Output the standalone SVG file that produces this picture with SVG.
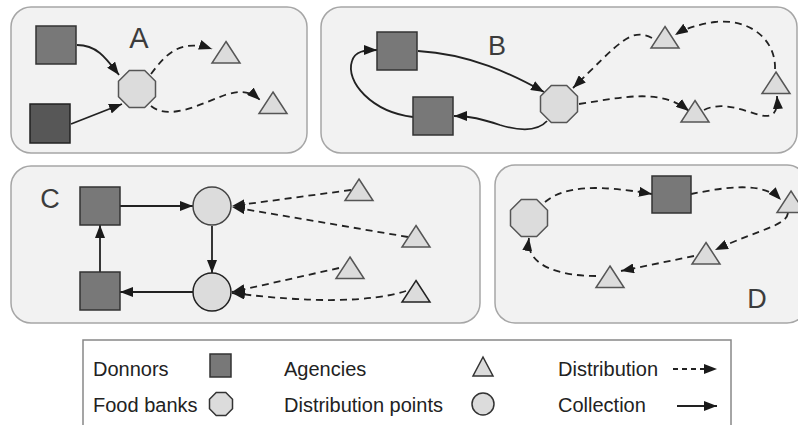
<svg xmlns="http://www.w3.org/2000/svg" xmlns:xlink="http://www.w3.org/1999/xlink" width="798" height="425" viewBox="0 0 798 425">
<style>
.panel{fill:#f2f2f2;stroke:#a6a6a6;stroke-width:1.5}
.donor{fill:#787878;stroke:#333;stroke-width:1.5}
.donor2{fill:#575757;stroke:#222;stroke-width:1.5}
.light{fill:#dcdcdc;stroke:#555;stroke-width:1.5}
.circ{fill:#dcdcdc;stroke:#444;stroke-width:1.5}
.col{fill:none;stroke:#222;stroke-width:1.8;marker-end:url(#ah)}
.dist{fill:none;stroke:#222;stroke-width:1.8;stroke-dasharray:7 5;marker-end:url(#ah)}
.lbl{font-family:"Liberation Sans",Arial,sans-serif;font-size:27px;fill:#3c3c3c;text-anchor:middle}
.leg{font-family:"Liberation Sans",Arial,sans-serif;font-size:20px;fill:#222}
</style>
<defs>
<marker id="ah" viewBox="0 0 13 10" refX="13" refY="5" markerWidth="13" markerHeight="10" markerUnits="userSpaceOnUse" orient="auto"><path d="M0,0 L13,5 L0,10 z" fill="#1a1a1a"/></marker>
<polygon id="oct" points="18.5,7.7 7.7,18.5 -7.7,18.5 -18.5,7.7 -18.5,-7.7 -7.7,-18.5 7.7,-18.5 18.5,-7.7"/>
<polygon id="octS" points="11.5,4.8 4.8,11.5 -4.8,11.5 -11.5,4.8 -11.5,-4.8 -4.8,-11.5 4.8,-11.5 11.5,-4.8"/>
<polygon id="tri" points="0,-11 14,10.5 -14,10.5"/>
<polygon id="triS" points="0,-9.5 10,9.5 -10,9.5"/>
</defs>

<g id="panels">
<rect class="panel" x="11" y="7" width="296" height="146" rx="20"/>
<rect class="panel" x="321" y="7" width="476" height="146" rx="20"/>
<rect class="panel" x="11" y="166" width="469" height="157" rx="20"/>
<rect class="panel" x="495" y="165" width="312" height="158" rx="20"/>
<text class="lbl" x="139" y="48" style="font-size:29px">A</text>
<text class="lbl" x="497" y="55">B</text>
<text class="lbl" x="50" y="208">C</text>
<text class="lbl" x="757" y="308">D</text>
</g>

<g id="connectors">
<!-- A -->
<path class="col" d="M77,45 C97,45 106,58 119,75"/>
<path class="col" d="M71,124 L122,104"/>
<path class="dist" d="M151,74 C165,55 180,38 212,49"/>
<path class="dist" d="M151,106 C170,121 200,104 225,95 C240,90 250,91 260,100"/>
<!-- B -->
<path class="col" d="M418,51 C470,54 512,74 544,92"/>
<path class="col" d="M547,121 C538,131 520,131 500,125 C482,119 470,116 454,116"/>
<path class="col" d="M413,117 C372,112 345,82 352,61 C355,51 365,50 377,50"/>
<path class="dist" d="M579,104 C625,97 660,88 689,111"/>
<path class="dist" d="M704,110 C722,101 742,110 760,115 C775,119 778,110 777,96"/>
<path class="dist" d="M775,69 C776,40 750,18 715,22 C700,24 686,28 675,35"/>
<path class="dist" d="M652,38 C631,27 620,42 573,88"/>
<!-- C -->
<path class="col" d="M120,206 L193,206"/>
<path class="col" d="M212,226 L212,273"/>
<path class="col" d="M193,292 L120,292"/>
<path class="col" d="M100,272 L100,225"/>
<path class="dist" d="M351,190 L232,206"/>
<path class="dist" d="M408,237 L232,207"/>
<path class="dist" d="M339,268 L232,292"/>
<path class="dist" d="M406,291 Q352,308 232,293"/>
<!-- D -->
<path class="dist" d="M545,202 C565,185 600,185 652,194"/>
<path class="dist" d="M691,194 C722,188 762,180 781,200"/>
<path class="dist" d="M788,213 C786,226 760,229 715,250"/>
<path class="dist" d="M694,256 L621,271"/>
<path class="dist" d="M596,276 C560,276 525,266 529,238"/>
</g>

<g id="A-donor1"><rect class="donor" x="36" y="26" width="40" height="38"/></g>
<g id="A-donor2"><rect class="donor2" x="30" y="104" width="40" height="39"/></g>
<g id="A-foodbank"><use xlink:href="#oct" href="#oct" class="light" x="137" y="89"/></g>
<g id="A-agency1"><use href="#tri" xlink:href="#tri" class="light" x="226" y="52.5"/></g>
<g id="A-agency2"><use href="#tri" xlink:href="#tri" class="light" x="273" y="103"/></g>

<g id="B-donor1"><rect class="donor" x="377" y="32" width="40" height="38"/></g>
<g id="B-donor2"><rect class="donor" x="413" y="97" width="40" height="38"/></g>
<g id="B-foodbank"><use href="#oct" xlink:href="#oct" class="light" x="559" y="104"/></g>
<g id="B-agency1"><use href="#tri" xlink:href="#tri" class="light" x="665" y="37.5"/></g>
<g id="B-agency2"><use href="#tri" xlink:href="#tri" class="light" x="776" y="83"/></g>
<g id="B-agency3"><use href="#tri" xlink:href="#tri" class="light" x="695" y="111.5"/></g>

<g id="C-donor1"><rect class="donor" x="80" y="187" width="40" height="38"/></g>
<g id="C-donor2"><rect class="donor" x="80" y="272" width="40" height="38"/></g>
<g id="C-point1"><circle class="circ" cx="212" cy="206" r="19"/></g>
<g id="C-point2"><circle class="circ" cx="212" cy="292" r="19" style="stroke:#222"/></g>
<g id="C-agency1"><use href="#tri" xlink:href="#tri" class="light" x="359" y="190"/></g>
<g id="C-agency2"><use href="#tri" xlink:href="#tri" class="light" x="416" y="236.5"/></g>
<g id="C-agency3"><use href="#tri" xlink:href="#tri" class="light" x="350" y="268"/></g>
<g id="C-agency4"><use href="#tri" xlink:href="#tri" class="light" x="416" y="291.5" style="stroke:#222"/></g>

<g id="D-foodbank"><use href="#oct" xlink:href="#oct" class="light" x="529" y="218"/></g>
<g id="D-donor"><rect class="donor" x="652" y="176" width="39" height="37"/></g>
<g id="D-agency1"><use href="#tri" xlink:href="#tri" class="light" x="791" y="202"/></g>
<g id="D-agency2"><use href="#tri" xlink:href="#tri" class="light" x="706" y="253.5"/></g>
<g id="D-agency3"><use href="#tri" xlink:href="#tri" class="light" x="610" y="277"/></g>

<g id="legend">
<rect x="83" y="340" width="648" height="100" fill="#fff" stroke="#888" stroke-width="1.5"/>
<text class="leg" x="93" y="376">Donnors</text>
<rect class="donor" x="210" y="354" width="21" height="23"/>
<text class="leg" x="93" y="412">Food banks</text>
<use href="#octS" xlink:href="#octS" class="light" x="221" y="404" style="stroke:#333"/>
<text class="leg" x="284" y="376">Agencies</text>
<use href="#triS" xlink:href="#triS" class="light" x="483" y="366.5" style="stroke:#333"/>
<text class="leg" x="284" y="412">Distribution points</text>
<circle class="circ" cx="483" cy="404" r="11" style="stroke:#333"/>
<text class="leg" x="558" y="376">Distribution</text>
<path class="dist" d="M673,369 L717,369" style="stroke-dasharray:5 4"/>
<text class="leg" x="558" y="412">Collection</text>
<path class="col" d="M677,406 L717,406"/>
</g>
</svg>
